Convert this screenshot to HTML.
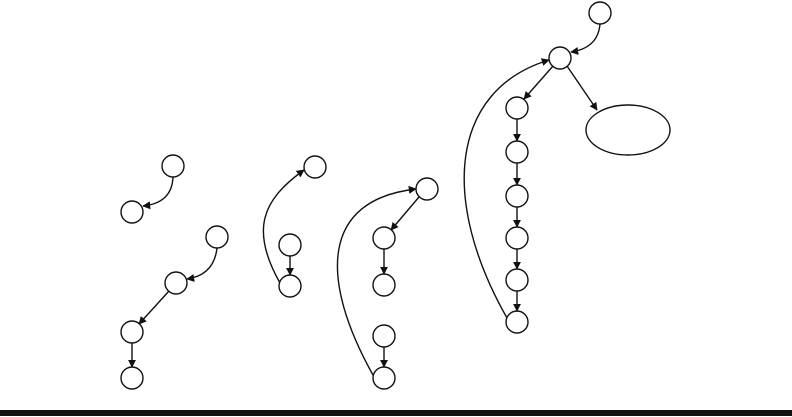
<!DOCTYPE html>
<html><head><meta charset="utf-8"><style>html,body{margin:0;padding:0;background:#fff;width:792px;height:417px;overflow:hidden}</style></head>
<body>
<svg width="792" height="417" viewBox="0 0 792 417">
<defs><marker id="ah" viewBox="0 0 10 10" refX="9" refY="5" markerWidth="8" markerHeight="8" markerUnits="userSpaceOnUse" orient="auto"><path d="M0,0 L10,5 L0,10 z" fill="#111"/></marker></defs>
<g fill="none" stroke="#111" stroke-width="1.4" marker-end="url(#ah)">
<path d="M173,177 Q172,203 143,206"/>
<path d="M217,248 Q214,275 187,279"/>
<path d="M169,291 L139,324"/>
<path d="M132,343 L132,367"/>
<path d="M290,256 L290,275"/>
<path d="M280,283 C250,230 262,200 304,170"/>
<path d="M419,197 L391,230"/>
<path d="M384,249 L384,274"/>
<path d="M384,347 L384,367"/>
<path d="M373,375 C320,280 320,200 416,189"/>
<path d="M600,24 Q598,48 571,52"/>
<path d="M553,66 L524,99"/>
<path d="M567,66 L597,110"/>
<path d="M517,119 L517,141"/>
<path d="M517,163 L517,185"/>
<path d="M517,207 L517,227"/>
<path d="M517,249 L517,269"/>
<path d="M517,291 L517,311"/>
<path d="M507,318 C440,200 450,90 549,60"/>
</g>
<g fill="#fff" stroke="#111" stroke-width="1.4">
<circle cx="173" cy="166" r="11"/><circle cx="132" cy="212" r="11"/>
<circle cx="217" cy="237" r="11"/><circle cx="176" cy="283" r="11"/>
<circle cx="132" cy="332" r="11"/><circle cx="132" cy="378" r="11"/>
<circle cx="315" cy="167" r="11"/><circle cx="290" cy="245" r="11"/><circle cx="290" cy="286" r="11"/>
<circle cx="427" cy="189" r="11"/><circle cx="384" cy="238" r="11"/><circle cx="384" cy="285" r="11"/>
<circle cx="384" cy="336" r="11"/><circle cx="384" cy="378" r="11"/>
<circle cx="600" cy="13" r="11"/><circle cx="560" cy="58" r="11"/>
<circle cx="517" cy="108" r="11"/><circle cx="517" cy="152" r="11"/><circle cx="517" cy="196" r="11"/>
<circle cx="517" cy="238" r="11"/><circle cx="517" cy="280" r="11"/><circle cx="517" cy="322" r="11"/>
<ellipse cx="628" cy="130" rx="42" ry="25"/>
</g>
<rect x="0" y="410" width="792" height="6" fill="#111"/>
</svg>
</body></html>
